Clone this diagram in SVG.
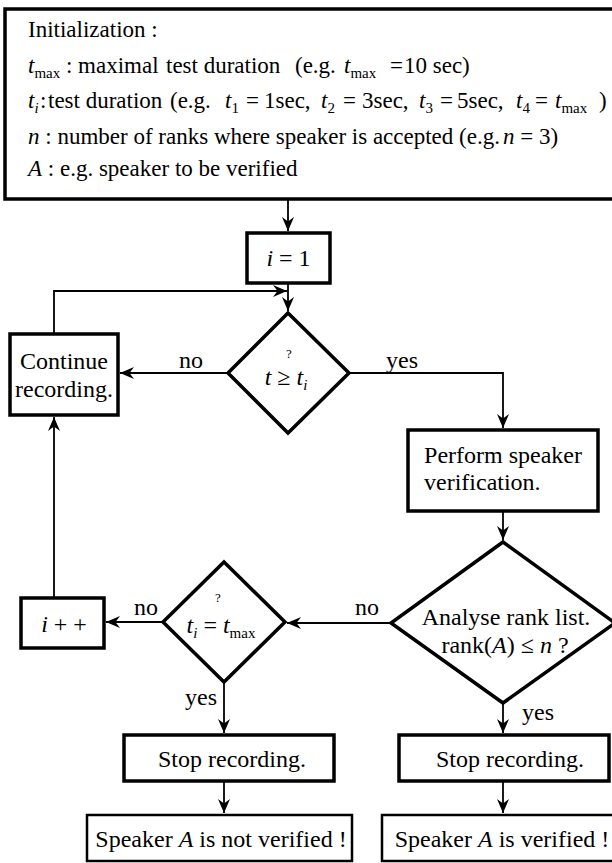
<svg xmlns="http://www.w3.org/2000/svg" width="612" height="863" viewBox="0 0 612 863">
<style>
text{font-family:'Liberation Serif','Times New Roman',serif;font-size:24px;fill:#000}
.ini{font-size:23px}
.it{font-style:italic}
.sub{font-size:15px}
.q{font-size:13px}
.box{fill:#fff;stroke:#000;stroke-width:3.5}
.thin{fill:#fff;stroke:#000;stroke-width:2.5}
.con{fill:none;stroke:#000;stroke-width:1.8}
</style>
<defs>
<marker id="ah" markerWidth="16" markerHeight="14" refX="14" refY="7" orient="auto" markerUnits="userSpaceOnUse">
<path d="M14,7 L0,1 L4.5,7 L0,13 Z" fill="#000"/>
</marker>
</defs>

<g id="init">
<rect class="box" x="5" y="9" width="612" height="190"/>
<text class="ini" x="28" y="37">Initialization :</text>
<text class="ini" y="73"><tspan class="it" x="28">t</tspan><tspan class="sub" dy="5">max</tspan><tspan dy="-5"> : maximal</tspan><tspan x="166">test duration</tspan><tspan x="295">(e.g.</tspan><tspan class="it" x="344">t</tspan><tspan class="sub" dy="5">max</tspan><tspan dy="-5" x="390">=</tspan><tspan x="404">10 sec)</tspan></text>
<text class="ini" y="108"><tspan class="it" x="28">t</tspan><tspan class="sub it" dy="5">i</tspan><tspan dy="-5" x="40">:</tspan><tspan x="48">test duration</tspan><tspan x="170">(e.g.</tspan><tspan class="it" x="225">t</tspan><tspan class="sub" dy="5">1</tspan><tspan dy="-5" x="246">=</tspan><tspan x="264">1sec,</tspan><tspan class="it" x="321">t</tspan><tspan class="sub" dy="5">2</tspan><tspan dy="-5" x="343">=</tspan><tspan x="362">3sec,</tspan><tspan class="it" x="419">t</tspan><tspan class="sub" dy="5">3</tspan><tspan dy="-5" x="440">=</tspan><tspan x="457">5sec,</tspan><tspan class="it" x="516">t</tspan><tspan class="sub" dy="5">4</tspan><tspan dy="-5" x="535">=</tspan><tspan class="it" x="555">t</tspan><tspan class="sub" dy="5">max</tspan><tspan dy="-5" x="599">)</tspan></text>
<text class="ini" y="144"><tspan class="it" x="28">n</tspan> : number of ranks where speaker is accepted (e.g.<tspan class="it" x="503">n</tspan> = 3)</text>
<text class="ini" x="28" y="176"><tspan class="it">A</tspan> : e.g. speaker to be verified</text>
</g>

<g id="i1">
<rect class="box" x="247" y="233" width="83" height="50"/>
<text x="288.5" y="266" text-anchor="middle"><tspan class="it">i</tspan> = 1</text>
</g>

<g id="d1">
<polygon class="box" points="288,313 349,373 288,433 228,373"/>
<text class="q" x="289" y="358" text-anchor="middle">?</text>
<text x="286" y="385" text-anchor="middle"><tspan class="it">t</tspan> ≥ <tspan class="it">t</tspan><tspan class="sub it" dy="5">i</tspan></text>
</g>

<g id="cont">
<rect class="box" x="10" y="334" width="108" height="81"/>
<text x="64" y="369" text-anchor="middle">Continue</text>
<text x="64" y="397" text-anchor="middle">recording.</text>
</g>

<g id="perform">
<rect class="box" x="408" y="430" width="190" height="81"/>
<text x="503" y="463" text-anchor="middle">Perform speaker</text>
<text x="424" y="490">verification.</text>
</g>

<g id="d2">
<polygon class="box" points="503,542 615,623 503,703 391,623"/>
<text x="506" y="625" text-anchor="middle">Analyse rank list.</text>
<text x="505" y="653" text-anchor="middle">rank(<tspan class="it">A</tspan>) ≤ <tspan class="it">n</tspan> ?</text>
</g>

<g id="d3">
<polygon class="box" points="224,562 285,622 224,682 163,622"/>
<text class="q" x="218" y="602" text-anchor="middle">?</text>
<text x="221" y="633" text-anchor="middle"><tspan class="it">t</tspan><tspan class="sub it" dy="5">i</tspan><tspan dy="-5"> = </tspan><tspan class="it">t</tspan><tspan class="sub" dy="5">max</tspan></text>
</g>

<g id="inc">
<rect class="box" x="21" y="598" width="83" height="50"/>
<text x="64" y="632" text-anchor="middle"><tspan class="it">i</tspan> + +</text>
</g>

<g id="stop1">
<rect class="box" x="124" y="735" width="210" height="46"/>
<text x="232" y="767" text-anchor="middle">Stop recording.</text>
</g>

<g id="stop2">
<rect class="box" x="399" y="735" width="210" height="46"/>
<text x="510" y="767" text-anchor="middle">Stop recording.</text>
</g>

<g id="notver">
<rect class="thin" x="87" y="815" width="265" height="46"/>
<text x="221" y="847" text-anchor="middle">Speaker <tspan class="it">A</tspan> is not verified !</text>
</g>

<g id="ver">
<rect class="thin" x="382" y="815" width="240" height="46"/>
<text x="502" y="847" text-anchor="middle">Speaker <tspan class="it">A</tspan> is verified !</text>
</g>

<g id="connectors">
<line class="con" x1="288" y1="199" x2="288" y2="231" marker-end="url(#ah)"/>
<line class="con" x1="288" y1="283" x2="288" y2="311" marker-end="url(#ah)"/>
<polyline class="con" points="54,334 54,291 287,291" marker-end="url(#ah)"/>
<line class="con" x1="228" y1="373" x2="120" y2="373" marker-end="url(#ah)"/>
<polyline class="con" points="349,373 503,373 503,428" marker-end="url(#ah)"/>
<line class="con" x1="503" y1="511" x2="503" y2="540" marker-end="url(#ah)"/>
<line class="con" x1="391" y1="623" x2="287" y2="623" marker-end="url(#ah)"/>
<line class="con" x1="163" y1="622" x2="106" y2="622" marker-end="url(#ah)"/>
<line class="con" x1="54" y1="598" x2="54" y2="417" marker-end="url(#ah)"/>
<line class="con" x1="224" y1="682" x2="224" y2="733" marker-end="url(#ah)"/>
<line class="con" x1="503" y1="703" x2="503" y2="733" marker-end="url(#ah)"/>
<line class="con" x1="224" y1="781" x2="224" y2="813" marker-end="url(#ah)"/>
<line class="con" x1="503" y1="781" x2="503" y2="813" marker-end="url(#ah)"/>
<text x="191" y="368" text-anchor="middle">no</text>
<text x="402" y="368" text-anchor="middle">yes</text>
<text x="367" y="615" text-anchor="middle">no</text>
<text x="146" y="615" text-anchor="middle">no</text>
<text x="201" y="705" text-anchor="middle">yes</text>
<text x="538" y="720" text-anchor="middle">yes</text>
</g>
</svg>
